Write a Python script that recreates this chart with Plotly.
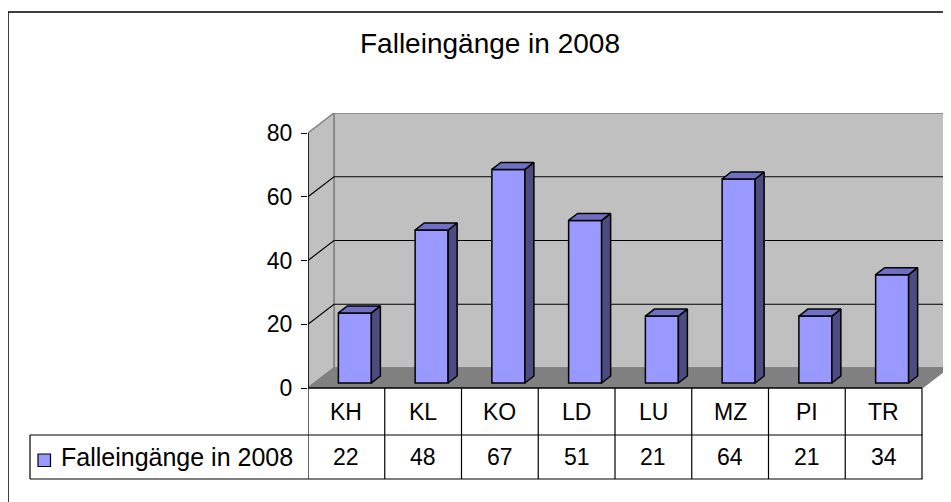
import plotly.graph_objects as go

# ---------------- data ----------------
categories = ["KH", "KL", "KO", "LD", "LU", "MZ", "PI", "TR"]
values = [22, 48, 67, 51, 21, 64, 21, 34]
series_name = "Falleingänge in 2008"
chart_title = "Falleingänge in 2008"
y_ticks = [0, 20, 40, 60, 80]

# ---------------- geometry / style ----------------
W, H = 951, 502
OFF = 8                                        # page body margin
PL, PR, PT, PB = 308 - OFF, 950 - OFF, 113 - OFF, 388 - OFF   # plot area (figure px)
PX_PER_CAT = 76.75
PX_PER_VAL = 3.1875
X0 = -0.5
X1 = X0 + (PR - PL) / PX_PER_CAT
Y0 = 0
Y1 = (PB - PT) / PX_PER_VAL
N = len(categories)
DX = 26 / PX_PER_CAT      # 3-D depth in x
DY = 20 / PX_PER_VAL      # 3-D depth in y
BW = 33 / PX_PER_CAT      # bar width
BSHIFT = 8.5 / PX_PER_CAT
BASE = 5 / PX_PER_VAL
SX = 9 / PX_PER_CAT
SY = 7 / PX_PER_VAL
FONT = "Liberation Sans, Arial, sans-serif"
FS = 23
FRONT = "#9999FF"
TOP = "#6F6FC4"
SIDE = "#4C4C80"
WALL = "#C0C0C0"
FLOOR = "#808080"
EDGE = "#808080"


def pxx(p):
    """reference-screen x pixel -> paper x"""
    return (p - OFF - PL) / (PR - PL)


def pxy(p):
    """reference-screen y pixel -> paper y"""
    return (PB - (p - OFF)) / (PB - PT)


idx = list(range(N))
fig = go.Figure()

# front faces
fig.add_trace(go.Bar(
    x=idx, y=values, base=BASE, width=BW, offset=BSHIFT - BW / 2,
    marker=dict(color=FRONT, line=dict(color="black", width=1.5)),
    name=series_name, hoverinfo="skip"))

# side and top faces computed from the values
sx, sy, tx, ty = [], [], [], []
for i, v in zip(idx, values):
    xl = i + BSHIFT - BW / 2
    xr = xl + BW
    yb = BASE
    yt = BASE + v
    sx += [xr, xr + SX, xr + SX, xr, xr, None]
    sy += [yb, yb + SY, yt + SY, yt, yb, None]
    tx += [xl, xr, xr + SX, xl + SX, xl, None]
    ty += [yt, yt, yt + SY, yt + SY, yt, None]
fig.add_trace(go.Scatter(x=sx, y=sy, mode="lines", fill="toself", fillcolor=SIDE,
                         line=dict(color="black", width=1.5), hoverinfo="skip"))
fig.add_trace(go.Scatter(x=tx, y=ty, mode="lines", fill="toself", fillcolor=TOP,
                         line=dict(color="black", width=1.5), hoverinfo="skip"))

shapes = []
# back wall
shapes.append(dict(type="rect", xref="x", yref="y", x0=X0 + DX, x1=X1 - 0.01,
                   y0=DY, y1=80 + DY, fillcolor=WALL, line=dict(color=EDGE, width=1.5),
                   layer="below"))
# left wall
shapes.append(dict(type="path", xref="x", yref="y",
                   path=f"M {X0},0 L {X0},80 L {X0+DX},{80+DY} L {X0+DX},{DY} Z",
                   fillcolor=WALL, line=dict(color=EDGE, width=1.5), layer="below"))
# floor
shapes.append(dict(type="path", xref="x", yref="y",
                   path=f"M {X0},0 L {X0+N},0 L {X0+N+DX},{DY} L {X0+DX},{DY} Z",
                   fillcolor=FLOOR, line=dict(color=EDGE, width=1.5), layer="below"))
# gridlines
for v in y_ticks[1:-1]:
    shapes.append(dict(type="path", xref="x", yref="y",
                       path=f"M {X0},{v} L {X0+DX},{v+DY} L {X1-0.01},{v+DY}",
                       line=dict(color="black", width=1.2), layer="below"))
# value axis line
shapes.append(dict(type="line", xref="x", yref="y", x0=X0, x1=X0, y0=0, y1=80,
                   line=dict(color="black", width=1.5)))

# data table
row1 = pxy(435)
row2 = pxy(479)
x_tab_r = pxx(922.5)
x_leg = pxx(30)
shapes.append(dict(type="line", xref="x", yref="paper", x0=X0, x1=X0 + N, y0=0, y1=0,
                   line=dict(color="black", width=1.5)))
for k in range(N + 1):
    shapes.append(dict(type="line", xref="x", yref="paper", x0=X0 + k, x1=X0 + k,
                       y0=0, y1=row2, line=dict(color="black", width=1.2)))
for yy in (row1, row2):
    shapes.append(dict(type="line", xref="paper", yref="paper", x0=x_leg, x1=x_tab_r,
                       y0=yy, y1=yy, line=dict(color="black", width=1.2)))
shapes.append(dict(type="line", xref="paper", yref="paper", x0=x_leg, x1=x_leg,
                   y0=row1, y1=row2, line=dict(color="black", width=1.2)))
# legend key
shapes.append(dict(type="rect", xref="paper", yref="paper", x0=pxx(38), x1=pxx(50.5),
                   y0=pxy(466.5), y1=pxy(454), fillcolor=FRONT,
                   line=dict(color="black", width=1.2)))
# chart frame
shapes.append(dict(type="rect", xref="paper", yref="paper", x0=pxx(8), x1=pxx(1100),
                   y0=pxy(700), y1=pxy(12), line=dict(color="black", width=1.5)))

annotations = []
for i, (c, v) in enumerate(zip(categories, values)):
    annotations.append(dict(x=i, y=pxy(411.5), xref="x", yref="paper", text=c,
                            showarrow=False, xanchor="center", yanchor="middle",
                            font=dict(family=FONT, size=FS, color="black")))
    annotations.append(dict(x=i, y=pxy(457), xref="x", yref="paper", text=str(v),
                            showarrow=False, xanchor="center", yanchor="middle",
                            font=dict(family=FONT, size=FS, color="black")))
annotations.append(dict(x=pxx(59), y=pxy(457), xref="paper", yref="paper",
                        text=series_name, showarrow=False, xanchor="left",
                        yanchor="middle", font=dict(family=FONT, size=25, color="black")))
annotations.append(dict(x=pxx(490), y=pxy(44), xref="paper", yref="paper",
                        text=chart_title, showarrow=False, xanchor="center",
                        yanchor="middle", font=dict(family=FONT, size=28, color="black")))

fig.update_layout(
    width=W, height=H,
    margin=dict(l=PL, r=W - PR, t=PT, b=H - PB, pad=0),
    paper_bgcolor="white", plot_bgcolor="white",
    showlegend=False,
    shapes=shapes, annotations=annotations,
    xaxis=dict(range=[X0, X1], showticklabels=False, showgrid=False, zeroline=False,
               showline=False, ticks="", fixedrange=True),
    yaxis=dict(range=[Y0, Y1], tickvals=y_ticks, ticks="outside", ticklen=6,
               tickcolor="black", tickwidth=1.2, showgrid=False, zeroline=False,
               showline=False, ticklabelstandoff=4,
               tickfont=dict(family=FONT, size=FS, color="black"), fixedrange=True),
)

fig.write_html("out.html")
